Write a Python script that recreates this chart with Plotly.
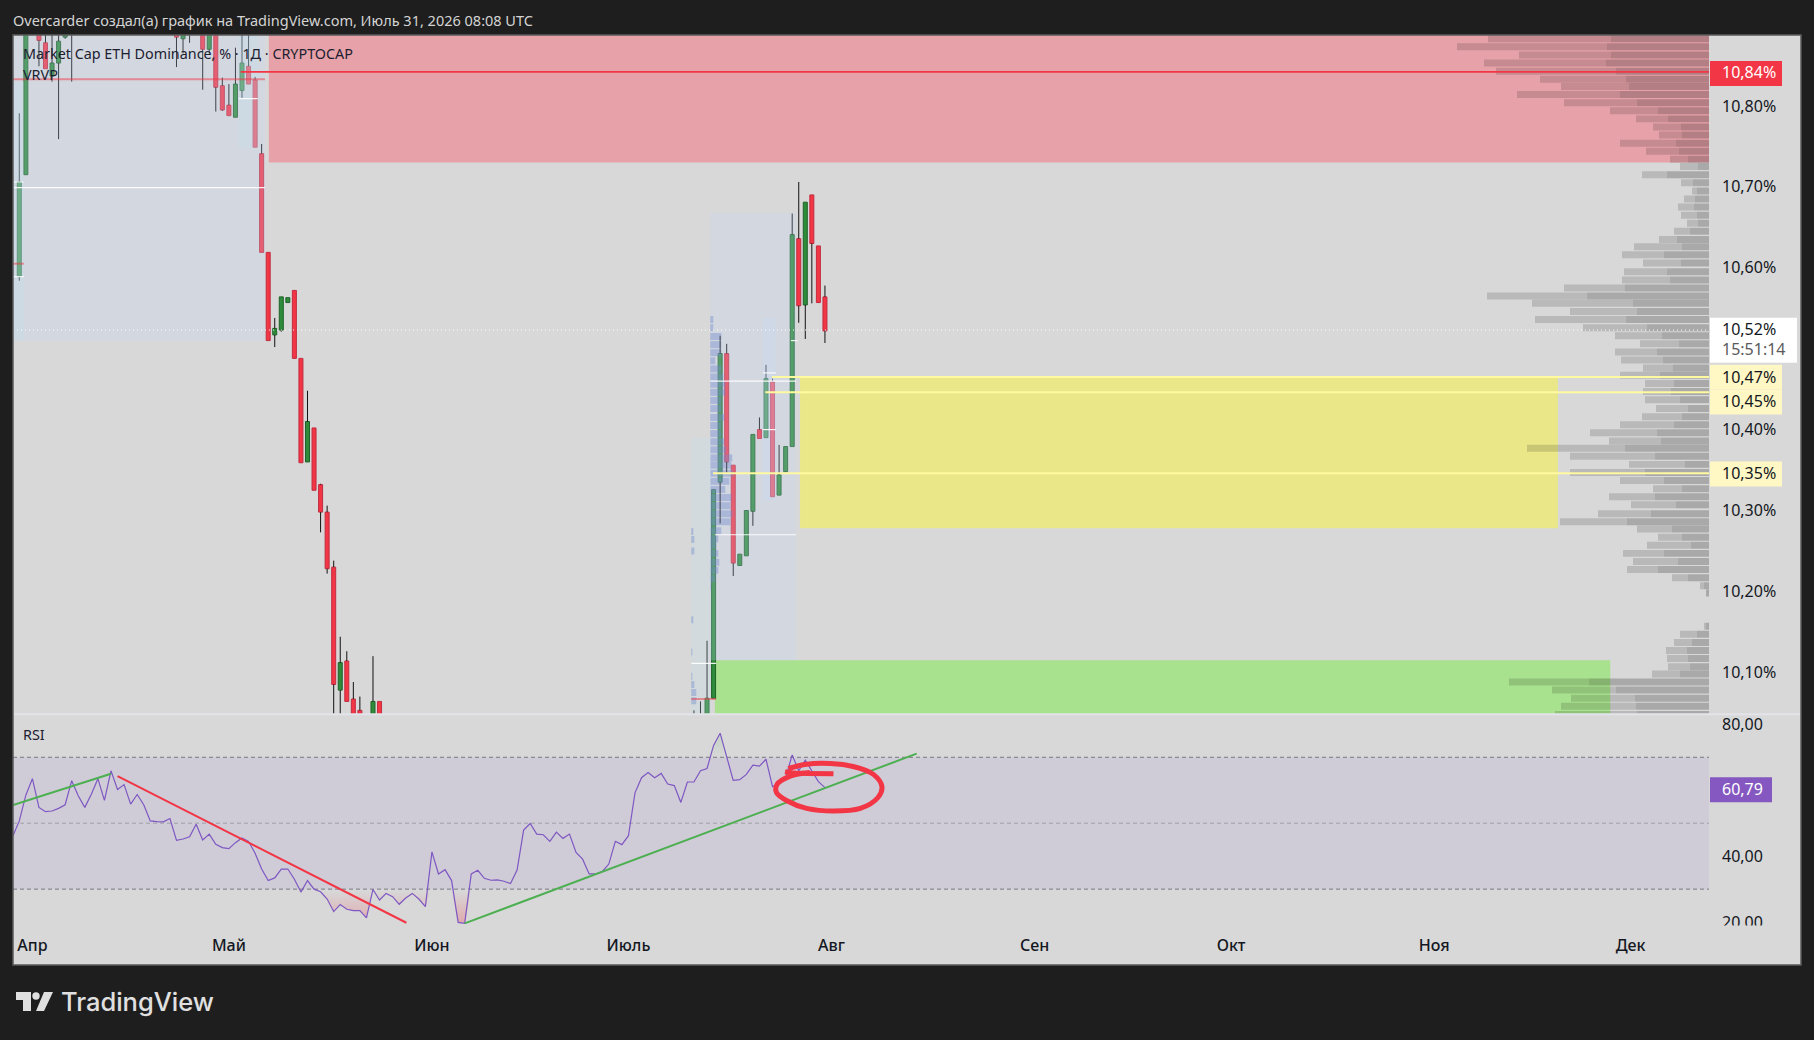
import pandas as pd
import plotly.graph_objects as go

W, H = 1814, 1040
PLOT_H = 1032  # paper area plotly leaves once the bottom margin is pushed
START = pd.Timestamp("2026-04-01")
DAY_PX = 6.55
MS_PER_VOL = 86400000 / DAY_PX

# candles: day offset from 1 Apr, values in % (off-pane parts are estimates)
candle_day = [-2, -1, 0, 1, 2, 3, 4, 5, 6,
              22, 23, 24, 25, 26, 27, 28, 29, 30, 31, 32, 33, 34, 35, 36, 37, 38, 39, 40, 41, 42, 43,
              44, 45, 46, 47, 48, 49, 50, 52, 53,
              101, 102, 103, 104, 105, 106, 107, 108, 109, 110, 111, 112, 113, 114, 115, 116, 117,
              118, 119, 120, 121]
candle_open = [10.589, 10.715, 10.93, 10.93, 10.878, 10.837, 10.853, 10.885, 10.90,
               10.91, 10.883, 10.92, 10.92, 10.93, 10.870, 10.91, 10.825, 10.801, 10.786, 10.819, 10.849,
               10.832, 10.741, 10.619, 10.517, 10.523, 10.557, 10.572, 10.488, 10.360, 10.402,
               10.332, 10.298, 10.230, 10.078, 10.114, 10.067, 10.053, 10.02, 10.064,
               10.02, 10.02, 10.03, 10.068, 10.335, 10.494, 10.356, 10.232, 10.244, 10.299, 10.400,
               10.390, 10.459, 10.319, 10.348, 10.379, 10.636, 10.554, 10.690, 10.627, 10.564]
candle_high = [10.791, 10.95, 10.97, 10.95, 10.90, 10.89, 10.91, 10.93, 10.95,
               10.93, 10.93, 10.93, 10.93, 10.94, 10.93, 10.93, 10.835, 10.827, 10.872, 10.90, 10.90,
               10.836, 10.753, 10.619, 10.538, 10.564, 10.563, 10.572, 10.488, 10.448, 10.402,
               10.333, 10.306, 10.238, 10.144, 10.126, 10.088, 10.070, 10.120, 10.064,
               10.053, 10.064, 10.139, 10.326, 10.516, 10.506, 10.356, 10.246, 10.300, 10.394, 10.415,
               10.480, 10.463, 10.381, 10.379, 10.667, 10.706, 10.681, 10.690, 10.627, 10.578]
candle_low = [10.584, 10.715, 10.91, 10.849, 10.846, 10.83, 10.759, 10.883, 10.83,
              10.848, 10.865, 10.878, 10.888, 10.820, 10.865, 10.793, 10.794, 10.788, 10.786, 10.810, 10.827,
              10.749, 10.619, 10.510, 10.502, 10.521, 10.557, 10.488, 10.359, 10.360, 10.325,
              10.273, 10.222, 10.016, 10.02, 10.064, 10.03, 10.01, 10.01, 10.01,
              10.01, 10.01, 10.02, 10.068, 10.284, 10.347, 10.219, 10.232, 10.244, 10.281, 10.389,
              10.390, 10.317, 10.319, 10.347, 10.379, 10.532, 10.512, 10.556, 10.557, 10.507]
candle_close = [10.706, 10.93, 10.95, 10.881, 10.846, 10.853, 10.880, 10.91, 10.93,
                10.885, 10.91, 10.90, 10.90, 10.870, 10.91, 10.823, 10.795, 10.788, 10.827, 10.853, 10.827,
                10.749, 10.619, 10.510, 10.525, 10.564, 10.563, 10.488, 10.359, 10.410, 10.325,
                10.298, 10.228, 10.085, 10.112, 10.064, 10.04, 10.02, 10.064, 10.02,
                10.03, 10.03, 10.068, 10.326, 10.494, 10.360, 10.235, 10.246, 10.300, 10.394, 10.389,
                10.463, 10.317, 10.344, 10.379, 10.641, 10.553, 10.681, 10.630, 10.557, 10.522]

# RSI, one value a day from 29 Mar
rsi_values = [46.0, 50.7, 58.5, 63.5, 54.8, 53.5, 53.7, 54.5, 55.6, 62.9, 58.3, 54.8, 58.8, 63.5, 56.9, 65.9,
              60.2, 61.7, 55.8, 58.7, 55.6, 50.7, 50.5, 50.4, 51.4, 44.8, 45.2, 45.9, 49.7, 44.9, 46.7, 43.6,
              42.6, 42.3, 44.1, 45.5, 44.5, 40.9, 36.1, 32.6, 33.4, 36.1, 36.1, 33.0, 29.1, 32.6, 30.0, 29.2,
              27.0, 23.2, 25.3, 23.9, 23.5, 23.5, 21.3, 29.9, 26.7, 28.7, 27.7, 25.4, 27.3, 28.7, 27.0, 24.7,
              41.3, 34.6, 35.9, 32.6, 19.9, 19.6, 34.6, 35.7, 33.3, 32.7, 32.8, 32.4, 31.7, 35.8, 47.9, 49.9,
              46.7, 46.5, 44.5, 47.3, 45.4, 46.7, 41.1, 39.1, 34.6, 34.6, 35.3, 37.6, 44.5, 43.5, 46.2, 59.2,
              63.8, 65.4, 63.8, 65.1, 61.9, 61.4, 56.3, 62.5, 62.5, 65.9, 66.6, 73.6, 77.3, 69.9, 63.0, 63.2,
              64.8, 67.6, 67.3, 69.4, 61.1, 61.8, 63.8, 70.7, 65.9, 69.1, 65.9, 62.6, 60.79]

# right hand volume profile
vp_price = [10.883, 10.873, 10.863, 10.853, 10.843, 10.833, 10.824, 10.814, 10.804, 10.794, 10.784, 10.774,
            10.764, 10.754, 10.744, 10.734, 10.725, 10.715, 10.705, 10.695, 10.685, 10.675, 10.665, 10.655,
            10.645, 10.635, 10.626, 10.616, 10.606, 10.595, 10.585, 10.575, 10.565, 10.556, 10.546, 10.536,
            10.526, 10.516, 10.506, 10.496, 10.486, 10.476, 10.467, 10.457, 10.447, 10.437, 10.426, 10.416,
            10.406, 10.396, 10.386, 10.377, 10.367, 10.357, 10.347, 10.337, 10.327, 10.317, 10.307, 10.296,
            10.286, 10.277, 10.267, 10.257, 10.247, 10.237, 10.227, 10.217, 10.207, 10.198,
            10.157, 10.147, 10.137, 10.127, 10.117, 10.107, 10.098, 10.088, 10.078, 10.068, 10.058, 10.048]
vp_total = [221, 252, 190, 225, 213, 169, 148, 192, 145, 99, 73, 56, 50, 89, 63, 39, 29, 67, 28, 17, 25, 31, 28,
            22, 35, 50, 75, 87, 66, 85, 87, 145, 222, 177, 139, 174, 126, 94, 69, 94,
            88, 66, 89, 64, 66, 64, 53, 67, 89, 119, 100, 182, 139, 80, 139, 89, 56, 100, 78, 111, 149, 72, 51,
            62, 86, 76, 82, 37, 9, 3,
            5, 29, 35, 43, 42, 41, 57, 200, 157, 138, 148, 154]
vp_dark = [98, 102, 98, 103, 93, 83, 80, 89, 72, 51, 41, 28, 27, 33, 30, 21, 11, 42, 16, 12, 14, 15, 12,
           11, 19, 32, 27, 45, 28, 42, 39, 84, 122, 76, 72, 83, 62, 47, 30, 52,
           46, 36, 49, 35, 38, 29, 21, 27, 35, 52, 48, 84, 54, 24, 64, 45, 27, 54, 33, 58, 82, 37, 27,
           18, 45, 31, 51, 21, 5, 3,
           3, 12, 17, 22, 21, 19, 29, 120, 93, 74, 73, 72]

# fixed range profile over July
blue_price = [10.536, 10.526, 10.515, 10.505, 10.495, 10.485, 10.475, 10.465, 10.456, 10.446, 10.436, 10.426,
              10.415, 10.405, 10.395, 10.385, 10.375, 10.365, 10.356, 10.346, 10.336, 10.326, 10.316, 10.306,
              10.296, 10.286, 10.275, 10.265, 10.257, 10.247, 10.236, 10.226, 10.216, 10.206]
blue_vol = [3, 3, 11, 11, 11, 5, 11, 13, 15, 15, 11, 11, 14, 11, 11, 14, 16, 22, 21, 23, 19, 15, 21, 20,
            22, 20, 11, 8, 6, 8, 9, 8, 5, 1]
blue_left_price = [10.274, 10.264, 10.25, 10.165, 10.125, 10.095, 10.085, 10.075, 10.065]
blue_left_vol = [2, 3, 3, 2, 1, 1, 3, 5, 5]

# drawings
red_zone = dict(d0=36.1, d1=256, p0=10.73, p1=10.89)
yellow_zone = dict(d0=117.2, d1=232.9, p0=10.278, p1=10.464)
green_zone = dict(d0=104.2, d1=240.9, p0=10.04, p1=10.115)
level_price = [10.465, 10.446, 10.346]
level_start = [112.9, 111.9, 103.9]
red_level = 10.842
red_level_start = 31.8
last_price = 10.523

# fixed range boxes: day0, day1, price low, price high
range_day0 = [-2.96, 103.5, 111.5]
range_day1 = [35.5, 116.6, 113.5]
range_low = [10.51, 10.115, 10.312]
range_high = [10.89, 10.668, 10.538]
teal_day0 = [-2.96, 31.5, 100.6]
teal_day1 = [-1.3, 34.4, 103.6]
teal_low = [10.51, 10.748, 10.04]
teal_high = [10.83, 10.89, 10.39]
white_price = [10.699, 10.706, 10.589, 10.809, 10.46, 10.27, 10.51, 10.47, 10.40, 10.111]
white_d0 = [-2.96, -2.96, -2.96, 31.5, 103.5, 104.2, 115.8, 111.5, 111.5, 100.6]
white_d1 = [35.5, -1.3, -1.3, 34.4, 116.6, 116.6, 116.8, 113.5, 113.5, 104.4]
pink_price = [10.833, 10.605, 10.067]
pink_d0 = [-2.96, -2.96, 100.6]
pink_d1 = [35.5, -1.3, 104.4]

trend_days = [[-2.96, 12], [13, 57.1], [66, 135]]
trend_rsi = [[55.5, 65.0], [64.3, 19.8], [19.6, 71.1]]
trend_colors = ["#4caf50", "#f23645", "#4caf50"]

mark_days = [114.9, 116.2, 118.2, 122.3]
mark_rsi = [65.6, 65.2, 65.1, 65.0]
circle_days = [118.7, 115.7, 113.7, 113.6, 115.2, 118.2, 122.3, 126.4, 129.1, 129.7, 128.4, 125.3, 121.8, 118.2, 115.4]
circle_rsi = [65.4, 64.3, 61.8, 59.3, 56.8, 54.5, 53.7, 54.5, 57.8, 61.1, 64.8, 67.2, 68.1, 67.9, 66.6]

month_ticks = ["2026-04-01", "2026-05-01", "2026-06-01", "2026-07-01", "2026-08-01", "2026-09-01", "2026-10-01",
               "2026-11-01", "2026-12-01"]
month_labels = ["Апр", "Май", "Июн", "Июль", "Авг", "Сен", "Окт", "Ноя", "Дек"]
price_ticks = [10.10, 10.20, 10.30, 10.40, 10.60, 10.70, 10.80]
price_labels = ["10,10%", "10,20%", "10,30%", "10,40%", "10,60%", "10,70%", "10,80%"]
rsi_ticks = [20, 40, 80]
rsi_labels = ["20,00", "40,00", "80,00"]

FONT = "Noto Sans"
BG = "#1e1e1e"
PANE = "#d8d8d8"
TXT = "#131722"


def day(n):
    return START + pd.to_timedelta(n, unit="D")


def px(x):
    return x / W


def py(y):
    return (PLOT_H - y) / PLOT_H


x_left, x_right = day(-2.96), day(255.97)
rsi_dates = pd.date_range("2026-03-29", periods=len(rsi_values), freq="D")
candle_dates = [day(n) for n in candle_day]

fig = go.Figure()

# wicks stop at the body, scatter traces are drawn over bars
wick_x, wick_y = [], []
for d, o, c, lo, hi in zip(candle_dates, candle_open, candle_close, candle_low, candle_high):
    wick_x += [d, d, None, d, d, None]
    wick_y += [hi, max(o, c), None, min(o, c), lo, None]
fig.add_trace(go.Scatter(x=wick_x, y=wick_y, mode="lines", line=dict(color="#111111", width=1), hoverinfo="skip"))

# bodies
for up, fill, edge in [(True, "#2e8b3a", "#1f6128"), (False, "#f23645", "#c22c3f")]:
    idx = [i for i in range(len(candle_day)) if (candle_close[i] >= candle_open[i]) == up]
    fig.add_trace(go.Bar(
        x=[candle_dates[i] for i in idx],
        y=[abs(candle_close[i] - candle_open[i]) for i in idx],
        base=[min(candle_open[i], candle_close[i]) for i in idx],
        width=4.0 * 86400000 / DAY_PX,
        marker=dict(color=fill, line=dict(color=edge, width=1)),
    ))

# profiles
bar_h = 7 / 810
fig.add_trace(go.Bar(y=vp_price, x=[-v * MS_PER_VOL for v in vp_total], base=x_right, orientation="h", width=bar_h,
                     marker=dict(color="rgba(0,0,0,0.143)", line=dict(width=0))))
fig.add_trace(go.Bar(y=vp_price, x=[-v * MS_PER_VOL for v in vp_dark], base=x_right, orientation="h", width=bar_h,
                     marker=dict(color="rgba(0,0,0,0.082)", line=dict(width=0))))
fig.add_trace(go.Bar(y=blue_price, x=[v * MS_PER_VOL for v in blue_vol], base=day(103.5), orientation="h", width=bar_h,
                     marker=dict(color="rgba(90,115,195,0.42)", line=dict(width=0))))
fig.add_trace(go.Bar(y=blue_left_price, x=[v * MS_PER_VOL for v in blue_left_vol], base=day(100.6), orientation="h",
                     width=bar_h, marker=dict(color="rgba(90,115,195,0.42)", line=dict(width=0))))

# RSI fills
rsi_low = [min(v, 30) for v in rsi_values]
rsi_high = [max(v, 70) for v in rsi_values]
fig.add_trace(go.Scatter(x=rsi_dates, y=[30] * len(rsi_dates), yaxis="y2", mode="lines", line=dict(width=0)))
fig.add_trace(go.Scatter(
    x=rsi_dates, y=rsi_low, yaxis="y2", mode="lines", line=dict(width=0), fill="tonexty",
    fillgradient=dict(type="vertical", start=20, stop=30,
                      colorscale=[[0, "rgba(242,54,69,0.3)"], [1, "rgba(242,54,69,0)"]]),
))
fig.add_trace(go.Scatter(x=rsi_dates, y=[70] * len(rsi_dates), yaxis="y2", mode="lines", line=dict(width=0)))
fig.add_trace(go.Scatter(
    x=rsi_dates, y=rsi_high, yaxis="y2", mode="lines", line=dict(width=0), fill="tonexty",
    fillgradient=dict(type="vertical", start=80, stop=70,
                      colorscale=[[0, "rgba(76,175,80,0.2)"], [1, "rgba(76,175,80,0)"]]),
))
fig.add_trace(go.Scatter(x=rsi_dates, y=rsi_values, yaxis="y2", mode="lines", line=dict(color="#7e57c2", width=1.2)))

# trend lines and the hand drawing
for days, vals, col in zip(trend_days, trend_rsi, trend_colors):
    fig.add_trace(go.Scatter(x=[day(n) for n in days], y=vals, yaxis="y2", mode="lines", line=dict(color=col, width=2)))
fig.add_trace(go.Scatter(x=[day(n) for n in circle_days], y=circle_rsi, yaxis="y2", mode="lines",
                         line=dict(color="#f23645", width=5, shape="spline")))
fig.add_trace(go.Scatter(x=[day(n) for n in mark_days], y=mark_rsi, yaxis="y2", mode="lines",
                         line=dict(color="#f23645", width=5, shape="spline")))

shapes = []
# pane
shapes.append(dict(type="rect", xref="paper", yref="paper", x0=px(13), x1=px(1801), y0=py(965), y1=py(34),
                   fillcolor=PANE, line=dict(width=0), layer="below"))
# zones
for zone, col in [(red_zone, "#e6a2a8"), (yellow_zone, "#e9e788"), (green_zone, "#a9e28f")]:
    shapes.append(dict(type="rect", xref="x", yref="y", x0=day(zone["d0"]), x1=day(zone["d1"]), y0=zone["p0"],
                       y1=zone["p1"], fillcolor=col, line=dict(width=0), layer="below"))
# rsi band
shapes.append(dict(type="rect", xref="x", yref="y2", x0=x_left, x1=x_right, y0=30, y1=70,
                   fillcolor="#cfccd8", line=dict(width=0), layer="below"))
for lvl, col in [(70, "#78787f"), (50, "#a09ea6"), (30, "#78787f")]:
    shapes.append(dict(type="line", xref="x", yref="y2", x0=x_left, x1=x_right, y0=lvl, y1=lvl,
                       line=dict(color=col, width=1, dash="4px,3px"), layer="below"))
# fixed range boxes sit on top of the candles
for d0, d1, lo, hi in zip(range_day0, range_day1, range_low, range_high):
    shapes.append(dict(type="rect", xref="x", yref="y", x0=day(d0), x1=day(d1), y0=lo, y1=hi,
                       fillcolor="rgba(196,216,248,0.25)", line=dict(width=0), layer="above"))
for d0, d1, lo, hi in zip(teal_day0, teal_day1, teal_low, teal_high):
    shapes.append(dict(type="rect", xref="x", yref="y", x0=day(d0), x1=day(d1), y0=lo, y1=hi,
                       fillcolor="rgba(190,225,235,0.25)", line=dict(width=0), layer="above"))
for p, d0, d1 in zip(white_price, white_d0, white_d1):
    shapes.append(dict(type="line", xref="x", yref="y", x0=day(d0), x1=day(d1), y0=p, y1=p,
                       line=dict(color="rgba(255,255,255,0.9)", width=1.2), layer="above"))
for p, d0, d1 in zip(pink_price, pink_d0, pink_d1):
    shapes.append(dict(type="line", xref="x", yref="y", x0=day(d0), x1=day(d1), y0=p, y1=p,
                       line=dict(color="rgba(242,54,69,0.5)", width=2), layer="above"))
# levels
shapes.append(dict(type="line", xref="x", yref="y", x0=day(red_level_start), x1=x_right, y0=red_level, y1=red_level,
                   line=dict(color="#f23645", width=1.8), layer="above"))
for p, d0 in zip(level_price, level_start):
    shapes.append(dict(type="line", xref="x", yref="y", x0=day(d0), x1=x_right, y0=p, y1=p,
                       line=dict(color="#fff9a0", width=2), layer="above"))
shapes.append(dict(type="line", xref="x", yref="y", x0=x_left, x1=x_right, y0=last_price, y1=last_price,
                   line=dict(color="#ffffff", width=1, dash="1px,3px"), layer="above"))
# pane separators and border
shapes.append(dict(type="line", xref="paper", yref="paper", x0=px(13), x1=px(1801), y0=py(714), y1=py(714),
                   line=dict(color="#e3e3ea", width=2), layer="above"))
shapes.append(dict(type="rect", xref="paper", yref="paper", x0=px(13), x1=px(1801), y0=py(965), y1=py(34),
                   line=dict(color="#5a5a5a", width=1.5), layer="above"))

annotations = []


def note(x, y, text, size, color, weight=400, font=FONT):
    annotations.append(dict(xref="paper", yref="paper", x=px(x), y=py(y), text=text, showarrow=False, xanchor="left",
                            yanchor="middle", borderpad=0,
                            font=dict(family=font, size=size, color=color, weight=weight)))


def price_box(x0, x1, y0, y1, color):
    shapes.append(dict(type="rect", xref="paper", yref="paper", x0=px(x0), x1=px(x1), y0=py(y1), y1=py(y0),
                       fillcolor=color, line=dict(width=0), layer="above"))


note(12, 19, "Overcarder создал(а) график на TradingView.com, Июль 31, 2026 08:08 UTC", 14.5, "#d4d4d4")
note(22, 53, "Market Cap ETH Dominance, % · 1Д · CRYPTOCAP", 14.35, "#1c2030")
note(22, 74, "VRVP", 14.35, "#1c2030")
note(22, 734, "RSI", 14.35, "#1c2030")

price_box(1710, 1782, 60, 85, "#f23645")
note(1721, 71, "10,84%", 16, "#ffffff")
price_box(1710, 1797, 317, 362, "#ffffff")
note(1721, 328, "10,52%", 16, TXT)
note(1721, 348, "15:51:14", 16, "#5a5a5a")
price_box(1710, 1782, 364, 389, "#fff8c4")
note(1721, 376, "10,47%", 16, TXT)
price_box(1710, 1782, 389, 414, "#fff8c4")
note(1721, 400, "10,45%", 16, TXT)
price_box(1710, 1782, 461, 486, "#fff8c4")
note(1721, 472, "10,35%", 16, TXT)
price_box(1710, 1772, 777, 802, "#8458c0")
note(1721, 789, "60,79", 16, "#ffffff")

# the pane clips the lowest RSI label
annotations.append(dict(xref="paper", yref="paper", x=px(1712), y=py(925), xanchor="left", yanchor="top", text=" ",
                        showarrow=False, width=80, height=12, bgcolor=PANE, borderpad=0))

# logo
logo_t = [(16, 992), (31, 992), (31, 1011), (23, 1011), (23, 1000), (16, 1000)]
logo_s = [(44, 992), (53, 992), (44, 1011), (36, 1011)]
for pts in (logo_t, logo_s):
    path = "M " + " L ".join(f"{px(a):.5f} {py(b):.5f}" for a, b in pts) + " Z"
    shapes.append(dict(type="path", xref="paper", yref="paper", path=path, fillcolor="#e0e0e0", line=dict(width=0)))
shapes.append(dict(type="circle", xref="paper", yref="paper", x0=px(32.3), x1=px(39.7), y0=py(999.7), y1=py(992.3),
                   fillcolor="#e0e0e0", line=dict(width=0)))
note(60, 1001, "TradingView", 25.5, "#e0e0e0", weight=500, font="Inter")

fig.update_layout(
    width=W, height=H,
    margin=dict(l=0, r=0, t=0, b=0),
    paper_bgcolor=BG, plot_bgcolor=PANE,
    barmode="overlay", showlegend=False, hovermode=False,
    separators=", ",
    font=dict(family=FONT, color=TXT, size=16),
    shapes=shapes, annotations=annotations,
    xaxis=dict(
        domain=[px(13), px(1709)], anchor="y2", type="date", range=[x_left, x_right],
        tickvals=month_ticks, ticktext=month_labels, showgrid=False, zeroline=False, showline=False, ticks="",
        ticklabelstandoff=9, tickfont=dict(size=16, color=TXT, weight=500),
    ),
    yaxis=dict(
        domain=[py(714), py(34)], anchor="x", side="right", range=[10.0481, 10.8877], tickvals=price_ticks,
        ticktext=price_labels, showgrid=False, zeroline=False, showline=False, ticks="",
        ticklabelstandoff=12, tickfont=dict(size=16, color=TXT),
    ),
    yaxis2=dict(
        domain=[py(925), py(714)], anchor="x", side="right", range=[19.09, 83.03], tickvals=rsi_ticks,
        ticktext=rsi_labels, showgrid=False, zeroline=False, showline=False, ticks="",
        ticklabelstandoff=12, tickfont=dict(size=16, color=TXT),
    ),
)

fig.write_html(
    "out.html",
    config={"displayModeBar": False},
    post_script=(
        "document.body.style.margin='0';document.body.style.background='#1e1e1e';"
        "document.documentElement.style.overflow='hidden';"
    ),
)
